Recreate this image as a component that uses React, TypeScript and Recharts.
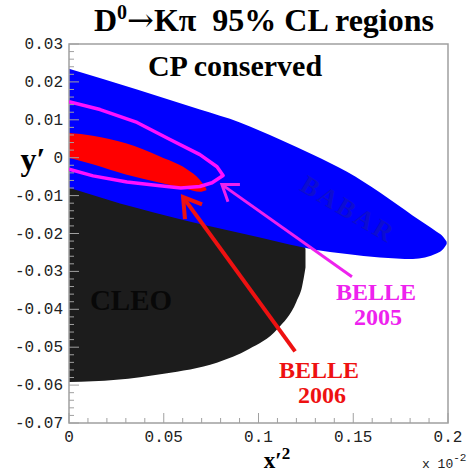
import { ComposedChart, Area, Line, XAxis, YAxis, ReferenceArea } from 'recharts';

// BABAR 95% CL region (upper / lower edges)
const babarX = [0, 0.0359, 0.0691, 0.0902, 0.1113, 0.1288, 0.1467, 0.1641, 0.1815, 0.1942, 0.1975, 0.1993];
const babarTop = [0.0235, 0.018, 0.0127, 0.0093, 0.0048, 0.0008, -0.0037, -0.0092, -0.0153, -0.0196, -0.0209, -0.0222];
const babarBottom = [-0.0079, -0.0133, -0.0175, -0.0199, -0.0223, -0.0242, -0.0254, -0.0263, -0.0267, -0.0252, -0.0241, -0.0228];

// CLEO region
const cleoX = [0, 0.025, 0.05, 0.078, 0.095, 0.11, 0.12, 0.123, 0.1248];
const cleoTop = [-0.006, -0.009, -0.012, -0.016, -0.018, -0.02, -0.0215, -0.0225, -0.024];
const cleoBottom = [-0.0592, -0.0586, -0.057, -0.0541, -0.0505, -0.0452, -0.038, -0.034, -0.029];

// BELLE 2006 region
const belle06X = [0, 0.0125, 0.03, 0.048, 0.062, 0.069, 0.0725];
const belle06Top = [0.0065, 0.0058, 0.0038, 0.0003, -0.003, -0.0058, -0.0082];
const belle06Bottom = [0.0, -0.0017, -0.0044, -0.0066, -0.0082, -0.009, -0.0086];

// BELLE 2005 contour
const belle05X = [0, 0.0164, 0.0359, 0.0533, 0.0691, 0.0781, 0.0813, 0.0755, 0.069, 0.059, 0.048, 0.0306, 0.0127, 0];
const belle05Y = [0.0148, 0.0127, 0.0093, 0.0048, 0.0008, -0.0024, -0.0047, -0.0066, -0.0076, -0.008, -0.0074, -0.0064, -0.0048, -0.003];

// arrows
const redArrowX = [0.1193, 0.0602];
const redArrowY = [-0.0511, -0.0104];
const redHeadX = [0.0612, 0.0602, 0.0702];
const redHeadY = [-0.0162, -0.0104, -0.0123];
const pinkArrowX = [0.1493, 0.0807];
const pinkArrowY = [-0.0314, -0.0071];
const pinkHeadX = [0.0902, 0.0807, 0.0839];
const pinkHeadY = [-0.0071, -0.0071, -0.0116];

// axes
const xMajor = [0, 0.05, 0.1, 0.15, 0.2];
const xLabels = ['0', '0.05', '0.1', '0.15', '0.2'];
const yMajor = [-0.07, -0.06, -0.05, -0.04, -0.03, -0.02, -0.01, 0, 0.01, 0.02, 0.03];
const yLabels = ['-0.07', '-0.06', '-0.05', '-0.04', '-0.03', '-0.02', '-0.01', '0', '0.01', '0.02', '0.03'];

const subdivide = (major: number[], n: number) => {
  const out: number[] = [];
  for (let i = 0; i < major.length; i++) {
    out.push(major[i]);
    if (i < major.length - 1) {
      const step = (major[i + 1] - major[i]) / n;
      for (let k = 1; k < n; k++) out.push(Math.round((major[i] + k * step) * 1e6) / 1e6);
    }
  }
  return out;
};
const xTicks = subdivide(xMajor, 5);
const yTicks = subdivide(yMajor, 5);

const toRange = (xs: number[], lo: number[], hi: number[]) => xs.map((x, i) => ({ x, range: [lo[i], hi[i]] }));
const toPoints = (xs: number[], ys: number[]) => xs.map((x, i) => ({ x, y: ys[i] }));

const babarData = toRange(babarX, babarBottom, babarTop);
const cleoData = toRange(cleoX, cleoBottom, cleoTop);
const belle06Data = toRange(belle06X, belle06Bottom, belle06Top);
const belle05Data = toPoints(belle05X, belle05Y);

const AXIS = '#a0a0a0';
const MONO = 'Liberation Mono, monospace';
const SERIF = 'Liberation Serif, serif';

const majorIndex = (list: number[], v: number) => list.findIndex((m) => Math.abs(m - v) < 1e-9);

function XTick(props: any) {
  const { x, y, payload } = props;
  const idx = majorIndex(xMajor, payload.value);
  return (
    <g>
      <line x1={x} x2={x} y1={y} y2={y - (idx >= 0 ? 10 : 5)} stroke={AXIS} strokeWidth={1} />
      {idx >= 0 && (
        <text x={x} y={y + 19} textAnchor="middle" fontFamily={MONO} fontSize={16} fill="#222">
          {xLabels[idx]}
        </text>
      )}
    </g>
  );
}

function YTick(props: any) {
  const { x, y, payload } = props;
  const idx = majorIndex(yMajor, payload.value);
  return (
    <g>
      <line x1={x} x2={x + (idx >= 0 ? 10 : 5)} y1={y} y2={y} stroke={AXIS} strokeWidth={1} />
      {idx >= 0 && (
        <text x={x - 6} y={y + 5} textAnchor="end" fontFamily={MONO} fontSize={16} fill="#222">
          {yLabels[idx]}
        </text>
      )}
    </g>
  );
}

export default function App() {
  return (
    <div style={{ position: 'absolute', left: 0, top: 0, width: 475, height: 474, background: '#fff' }}>
      <ComposedChart width={475} height={474} margin={{ top: 44, right: 27, bottom: 0, left: 0 }}>
        <XAxis
          dataKey="x"
          type="number"
          domain={[0, 0.2]}
          ticks={xTicks}
          interval={0}
          allowDataOverflow
          axisLine={false}
          tickLine={false}
          tickSize={0}
          tickMargin={0}
          height={51}
          tick={(p: any) => <XTick {...p} />}
        />
        <YAxis
          type="number"
          domain={[-0.07, 0.03]}
          ticks={yTicks}
          interval={0}
          allowDataOverflow
          axisLine={false}
          tickLine={false}
          tickSize={0}
          tickMargin={0}
          width={69}
          tick={(p: any) => <YTick {...p} />}
        />
        <Area data={cleoData} dataKey="range" type="monotone" fill="#1c1c1c" fillOpacity={1} stroke="none" isAnimationActive={false} />
        <Area data={babarData} dataKey="range" type="monotone" fill="#0000ff" fillOpacity={1} stroke="none" isAnimationActive={false} />
        <Area data={belle06Data} dataKey="range" type="monotone" fill="#ff0000" fillOpacity={1} stroke="none" isAnimationActive={false} />
        <Line data={belle05Data} dataKey="y" type="linear" stroke="#ff10ff" strokeWidth={3.5} dot={false} strokeLinejoin="round" isAnimationActive={false} />
        <Line data={toPoints(redArrowX, redArrowY)} dataKey="y" type="linear" stroke="#ee1111" strokeWidth={4} dot={false} isAnimationActive={false} />
        <Line data={toPoints(redHeadX, redHeadY)} dataKey="y" type="linear" stroke="#ee1111" strokeWidth={4} dot={false} isAnimationActive={false} />
        <Line data={toPoints(pinkArrowX, pinkArrowY)} dataKey="y" type="linear" stroke="#ee22ee" strokeWidth={3} dot={false} isAnimationActive={false} />
        <Line data={toPoints(pinkHeadX, pinkHeadY)} dataKey="y" type="linear" stroke="#ee22ee" strokeWidth={3} dot={false} isAnimationActive={false} />
        <ReferenceArea x1={0} x2={0.2} y1={-0.07} y2={0.03} fill="none" stroke={AXIS} strokeWidth={1.5} ifOverflow="visible" />
      </ComposedChart>
      <svg width={475} height={474} style={{ position: 'absolute', left: 0, top: 0, pointerEvents: 'none' }}>
        <g fontFamily={SERIF} fontWeight="bold">
          <text x={264} y={31} textAnchor="middle" fontSize={32} fill="#000">
            D<tspan dy={-12} fontSize={20}>0</tspan>
            <tspan dy={12} fontFamily="DejaVu Serif" fontWeight="normal">{'\u2192'}</tspan>
            <tspan>{'K\u03c0\u00a0\u00a095% CL regions'}</tspan>
          </text>
          <text x={235} y={76} textAnchor="middle" fontSize={30} fill="#000">CP conserved</text>
          <text x={33} y={170} textAnchor="middle" fontSize={32} fill="#000">y{'\u2032'}</text>
          <text x={277} y={468} textAnchor="middle" fontSize={23} fill="#000">
            x{'\u2032'}<tspan dy={-9} fontSize={17}>2</tspan>
          </text>
          <text x={348} y={218} textAnchor="middle" fontSize={26} letterSpacing={3} fill="#0d0dd0" transform="rotate(31 348 210)">BABAR</text>
          <text x={131} y={310} textAnchor="middle" fontSize={29} fill="#080808">CLEO</text>
          <text x={376} y={300} textAnchor="middle" fontSize={24} fill="#ee22ee">BELLE</text>
          <text x={378} y={325} textAnchor="middle" fontSize={24} fill="#ee22ee">2005</text>
          <text x={319} y={378} textAnchor="middle" fontSize={24} fill="#ee1111">BELLE</text>
          <text x={322} y={403} textAnchor="middle" fontSize={24} fill="#ee1111">2006</text>
        </g>
        <text x={422} y={468} fontFamily={MONO} fontSize={13} fill="#222">
          x 10<tspan dy={-7} fontSize={11}>-2</tspan>
        </text>
      </svg>
    </div>
  );
}
